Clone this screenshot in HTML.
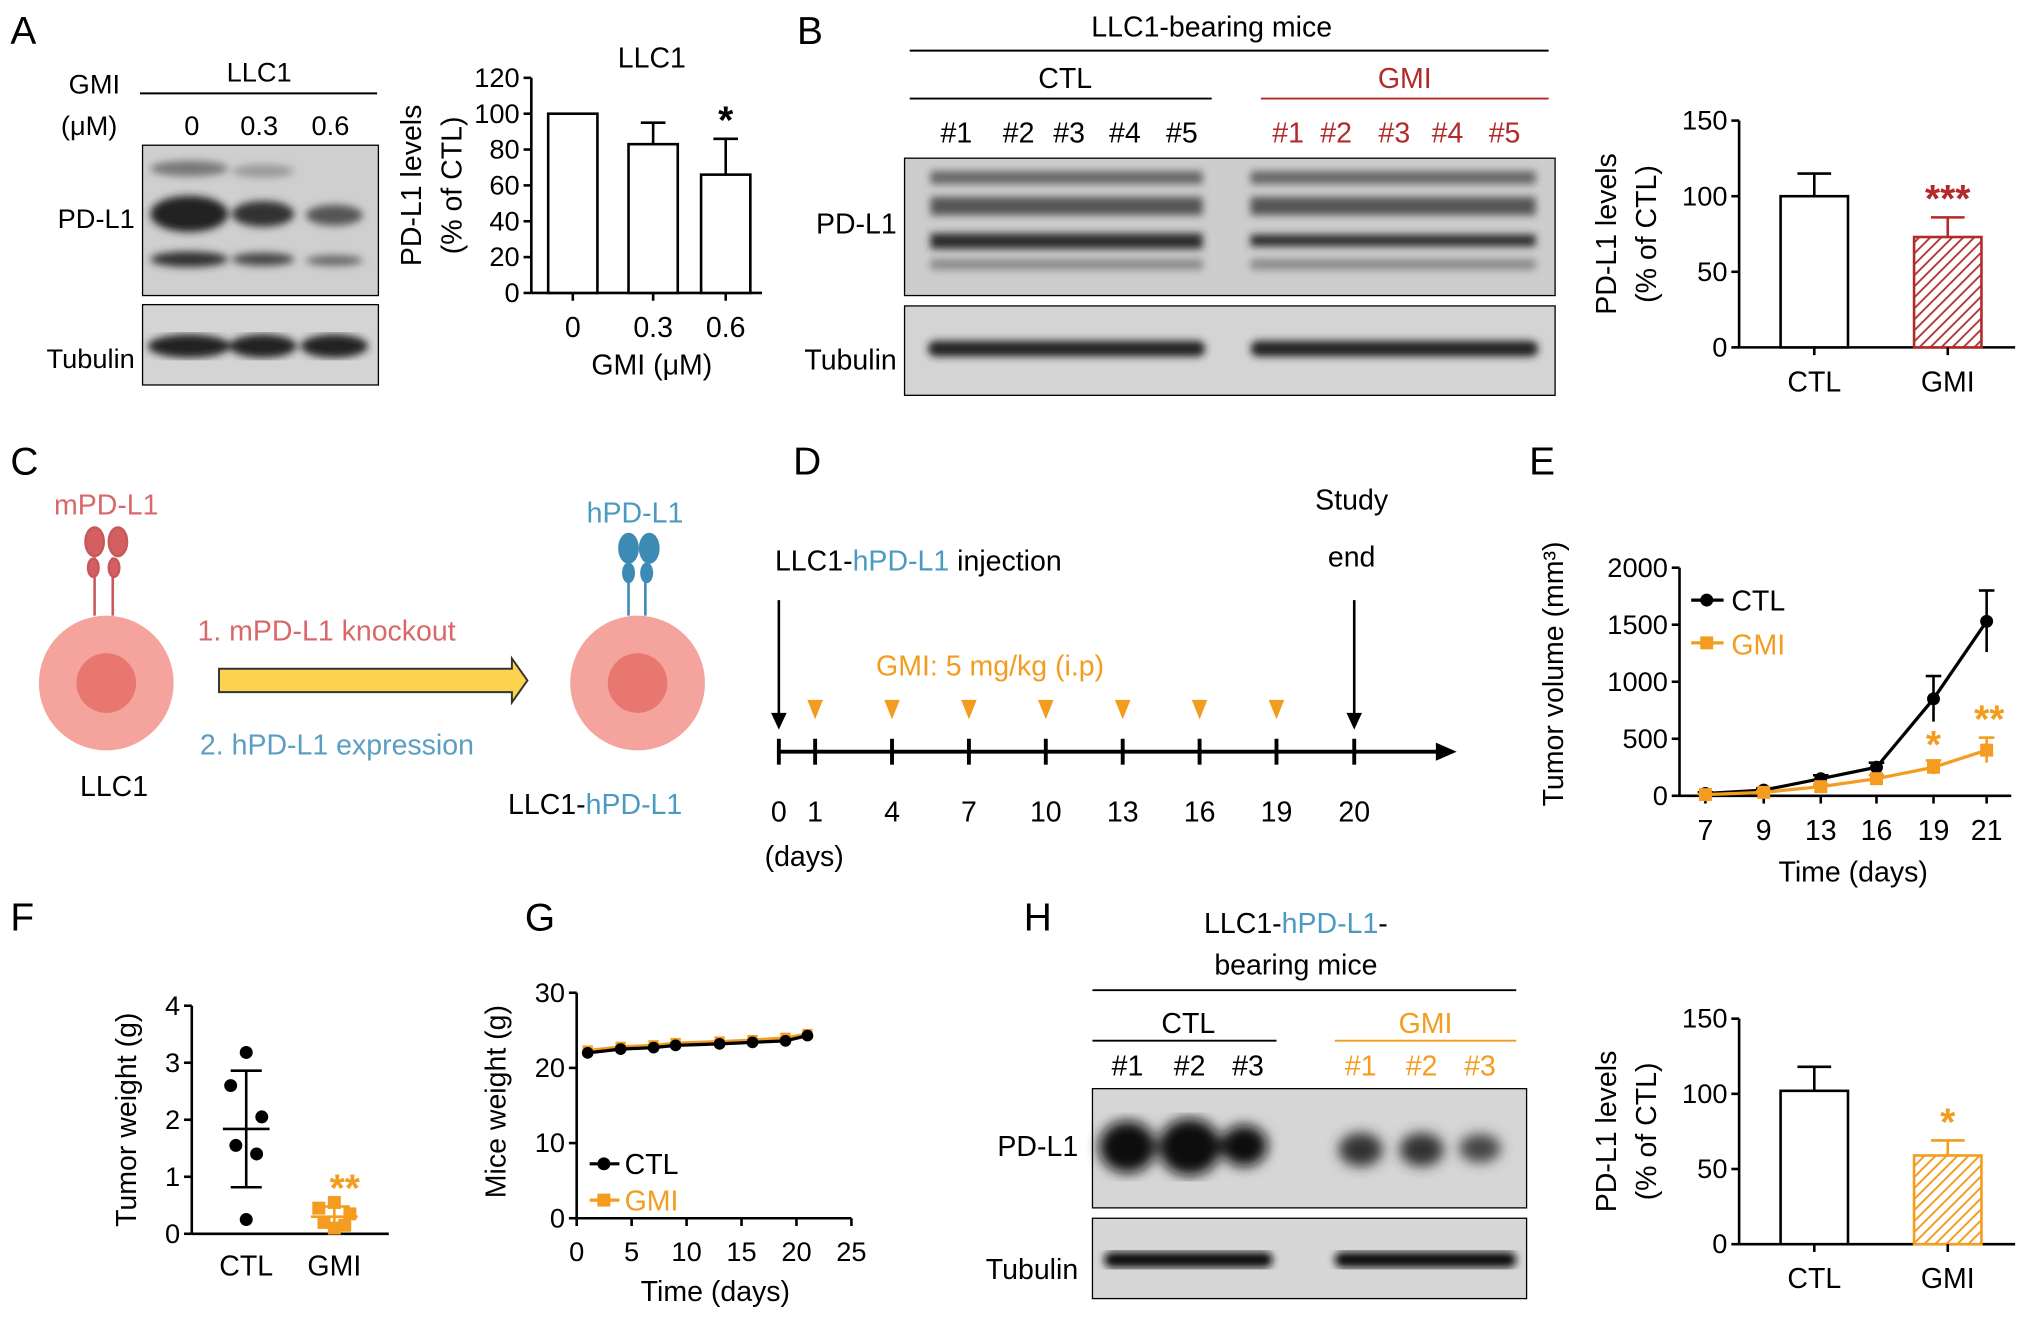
<!DOCTYPE html>
<html><head><meta charset="utf-8"><style>
html,body{margin:0;padding:0;background:#fff;}
svg{display:block;font-family:"Liberation Sans",Arial,sans-serif;}
</style></head><body>
<svg id="fig" width="2032" height="1322" viewBox="0 0 1568 1020" xmlns="http://www.w3.org/2000/svg">
<defs>
<pattern id="hatchRed" patternUnits="userSpaceOnUse" width="6" height="6" patternTransform="rotate(45)"><rect width="6" height="6" fill="#fff"/><line x1="0" y1="0" x2="0" y2="6" stroke="#b33a3a" stroke-width="3"/></pattern>
<pattern id="hatchOr" patternUnits="userSpaceOnUse" width="6" height="6" patternTransform="rotate(45)"><rect width="6" height="6" fill="#fff"/><line x1="0" y1="0" x2="0" y2="6" stroke="#f39c1f" stroke-width="3"/></pattern>
<filter id="blur2"><feGaussianBlur stdDeviation="3"/></filter>
<filter id="blur4"><feGaussianBlur stdDeviation="5"/></filter>
</defs>

<g font-size="30" fill="#000">
<text x="8" y="34">A</text><text x="615" y="34">B</text><text x="8" y="366">C</text>
<text x="612" y="366">D</text><text x="1180" y="366">E</text><text x="8" y="718">F</text>
<text x="405" y="718">G</text><text x="790" y="718">H</text>
</g>

<g font-size="21">
<text x="53" y="72">GMI</text>
<text x="47" y="104">(μM)</text>
<text x="200" y="63" text-anchor="middle">LLC1</text>
<line x1="108" y1="72" x2="291" y2="72" stroke="#000" stroke-width="1.5"/>
<text x="148" y="104" text-anchor="middle">0</text><text x="200" y="104" text-anchor="middle">0.3</text><text x="255" y="104" text-anchor="middle">0.6</text>
<text x="104" y="176" text-anchor="end">PD-L1</text>
<text x="104" y="284" text-anchor="end">Tubulin</text>
<rect x="110" y="112" width="182" height="116" fill="#cfcfcf" stroke="#000"/>
<g filter="url(#blur2)" fill="#222">
<ellipse cx="146" cy="165" rx="30" ry="14"/><ellipse cx="203" cy="165" rx="24" ry="10" fill="#333"/><ellipse cx="258" cy="166" rx="22" ry="8" fill="#555"/>
<ellipse cx="146" cy="200" rx="30" ry="6" fill="#333"/><ellipse cx="203" cy="200" rx="24" ry="5" fill="#444"/><ellipse cx="258" cy="201" rx="22" ry="4" fill="#666"/>
<ellipse cx="146" cy="130" rx="30" ry="6" fill="#777"/><ellipse cx="203" cy="132" rx="24" ry="5" fill="#999"/>
</g>
<rect x="110" y="235" width="182" height="62" fill="#d4d4d4" stroke="#000"/>
<g filter="url(#blur2)" fill="#222"><ellipse cx="146" cy="267" rx="32" ry="9"/><ellipse cx="203" cy="267" rx="26" ry="9"/><ellipse cx="258" cy="267" rx="26" ry="9"/></g>
</g>

<g font-size="22">
<text x="935" y="28" text-anchor="middle">LLC1-bearing mice</text>
<line x1="702" y1="39" x2="1195" y2="39" stroke="#000" stroke-width="1.5"/>
<text x="822" y="68" text-anchor="middle">CTL</text>
<line x1="702" y1="76" x2="935" y2="76" stroke="#000" stroke-width="1.5"/>
<text x="1084" y="68" text-anchor="middle" fill="#b22a2a">GMI</text>
<line x1="973" y1="76" x2="1195" y2="76" stroke="#b22a2a" stroke-width="1.5"/>
<g text-anchor="middle"><text x="738" y="110">#1</text><text x="786" y="110">#2</text><text x="825" y="110">#3</text><text x="868" y="110">#4</text><text x="912" y="110">#5</text></g>
<g text-anchor="middle" fill="#b22a2a"><text x="994" y="110">#1</text><text x="1031" y="110">#2</text><text x="1076" y="110">#3</text><text x="1117" y="110">#4</text><text x="1161" y="110">#5</text></g>
<text x="692" y="180" text-anchor="end">PD-L1</text>
<text x="692" y="285" text-anchor="end">Tubulin</text>
<rect x="698" y="122" width="502" height="106" fill="#cdcdcd" stroke="#000"/>
<rect x="698" y="236" width="502" height="69" fill="#d4d4d4" stroke="#000"/>
<g filter="url(#blur2)">
<g fill="#666"><rect x="718" y="132" width="210" height="10"/><rect x="965" y="132" width="220" height="10"/></g>
<g fill="#555"><rect x="718" y="152" width="210" height="14"/><rect x="965" y="152" width="220" height="14"/></g>
<g fill="#2a2a2a"><rect x="718" y="180" width="210" height="12"/><rect x="965" y="181" width="220" height="9"/></g>
<g fill="#888"><rect x="718" y="200" width="210" height="8"/><rect x="965" y="200" width="220" height="8"/></g>
<g fill="#222"><rect x="716" y="263" width="214" height="12" rx="6"/><rect x="965" y="263" width="222" height="12" rx="6"/></g>
</g>
</g>

<g font-size="22">
<text x="82" y="397" text-anchor="middle" fill="#d9686a">mPD-L1</text>
<g stroke="#c9585b" stroke-width="2" fill="#d45f62">
<line x1="73" y1="430" x2="73" y2="475"/><line x1="87" y1="430" x2="87" y2="475"/>
<ellipse cx="73" cy="418" rx="7" ry="11"/><ellipse cx="91" cy="418" rx="7" ry="11"/><ellipse cx="72" cy="438" rx="4" ry="7"/><ellipse cx="88" cy="438" rx="4" ry="7"/>
</g>
<circle cx="82" cy="527" r="52" fill="#f4a49d"/><circle cx="82" cy="527" r="23" fill="#e8776f"/>
<text x="88" y="614" text-anchor="middle" fill="#000">LLC1</text>
<text x="252" y="494" text-anchor="middle" fill="#d9686a">1. mPD-L1 knockout</text>
<text x="260" y="582" text-anchor="middle" fill="#5a9ec2">2. hPD-L1 expression</text>
<polygon points="169,516 395,516 395,508 407,525 395,542 395,534 169,534" fill="#fcd34f" stroke="#333" stroke-width="1.5"/>
<text x="490" y="403" text-anchor="middle" fill="#4a9ac2">hPD-L1</text>
<g stroke="#3d8bb5" stroke-width="2" fill="#3d8bb5">
<line x1="485" y1="435" x2="485" y2="475"/><line x1="498" y1="435" x2="498" y2="475"/>
<ellipse cx="485" cy="423" rx="7" ry="11"/><ellipse cx="501" cy="423" rx="7" ry="11"/><ellipse cx="485" cy="442" rx="4" ry="7"/><ellipse cx="499" cy="442" rx="4" ry="7"/>
</g>
<circle cx="492" cy="527" r="52" fill="#f4a49d"/><circle cx="492" cy="527" r="23" fill="#e8776f"/>
<text x="392" y="628" fill="#000">LLC1-<tspan fill="#4a9ac2">hPD-L1</tspan></text>
</g>

<g font-size="22">
<text x="598" y="440">LLC1-<tspan fill="#4a9ac2">hPD-L1</tspan> injection</text>
<text x="1043" y="393" text-anchor="middle">Study</text><text x="1043" y="437" text-anchor="middle">end</text>
<text x="764" y="521" text-anchor="middle" fill="#f39c1f">GMI: 5 mg/kg (i.p)</text>
<line x1="601" y1="463" x2="601" y2="553" stroke="#000" stroke-width="2"/><polygon points="595,550 607,550 601,563" fill="#000"/>
<line x1="1045" y1="463" x2="1045" y2="553" stroke="#000" stroke-width="2"/><polygon points="1039,550 1051,550 1045,563" fill="#000"/>
<line x1="601" y1="580" x2="1110" y2="580" stroke="#000" stroke-width="3"/><polygon points="1108,573 1124,580 1108,587" fill="#000"/>
<g id="dTicks"></g>
<text x="590" y="668">(days)</text>
</g>

<g id="charts"></g>

<g font-size="22">
<text x="1000" y="720" text-anchor="middle">LLC1-<tspan fill="#4a9ac2">hPD-L1</tspan>-</text>
<text x="1000" y="752" text-anchor="middle">bearing mice</text>
<line x1="843" y1="764" x2="1170" y2="764" stroke="#000" stroke-width="1.5"/>
<text x="917" y="797" text-anchor="middle">CTL</text>
<line x1="843" y1="803" x2="985" y2="803" stroke="#000" stroke-width="1.5"/>
<text x="1100" y="797" text-anchor="middle" fill="#f39c1f">GMI</text>
<line x1="1030" y1="803" x2="1170" y2="803" stroke="#f39c1f" stroke-width="1.5"/>
<g text-anchor="middle"><text x="870" y="830">#1</text><text x="918" y="830">#2</text><text x="963" y="830">#3</text></g>
<g text-anchor="middle" fill="#f39c1f"><text x="1050" y="830">#1</text><text x="1097" y="830">#2</text><text x="1142" y="830">#3</text></g>
<text x="832" y="892" text-anchor="end">PD-L1</text>
<text x="832" y="987" text-anchor="end">Tubulin</text>
<rect x="843" y="840" width="335" height="92" fill="#d6d6d6" stroke="#000"/>
<g filter="url(#blur4)" fill="#111"><ellipse cx="870" cy="885" rx="22" ry="20"/><ellipse cx="918" cy="885" rx="24" ry="22"/><ellipse cx="960" cy="884" rx="18" ry="16"/>
<ellipse cx="1050" cy="887" rx="17" ry="13" fill="#333"/><ellipse cx="1097" cy="887" rx="17" ry="13" fill="#333"/><ellipse cx="1142" cy="886" rx="16" ry="11" fill="#444"/></g>
<rect x="843" y="940" width="335" height="62" fill="#d6d6d6" stroke="#000"/>
<g filter="url(#blur2)" fill="#111"><rect x="852" y="966" width="130" height="12" rx="6"/><rect x="1030" y="966" width="140" height="12" rx="6"/></g>
</g>

<script>
var aCats = ["0","0.3","0.6"];
var aVals = [100, 83, 66];
var aErr = [0, 12, 20];
var aTicks = [0,20,40,60,80,100,120];
var bCats = ["CTL","GMI"];
var bVals = [100, 73];
var bErr = [15, 13];
var bTicks = [0,50,100,150];
var hCats = ["CTL","GMI"];
var hVals = [102, 59];
var hErr = [16, 10];
var dDays = [0,1,4,7,10,13,16,19,20];
var dGmi = [1,4,7,10,13,16,19];
var eDays = ["7","9","13","16","19","21"];
var eCtl = [20, 50, 150, 250, 850, 1530];
var eCtlErr = [10, 15, 30, 40, 200, 270];
var eGmi = [10, 30, 80, 150, 250, 400];
var eGmiErr = [5, 10, 20, 30, 60, 110];
var eTicks = [0,500,1000,1500,2000];
var fCtl = [3.18, 2.6, 2.05, 1.55, 1.4, 0.25];
var fGmi = [0.55, 0.45, 0.35, 0.2, 0.15, 0.1];
var fTicks = [0,1,2,3,4];
var gDays = [1,4,7,9,13,16,19,21];
var gCtl = [22, 22.5, 22.7, 23, 23.2, 23.4, 23.6, 24.3];
var gGmi = [22.3, 22.8, 23, 23.3, 23.5, 23.7, 24, 24.5];
var gXTicks = [0,5,10,15,20,25];
var gYTicks = [0,10,20,30];

var NS="http://www.w3.org/2000/svg";
var root=document.getElementById('charts');
function el(tag,attrs,parent,txt){var e=document.createElementNS(NS,tag);for(var k in attrs)e.setAttribute(k,attrs[k]);if(txt!==undefined)e.textContent=txt;(parent||root).appendChild(e);return e;}

function barChart(o){
  var g=el('g',{});
  
  
  var ymax=o.ticks[o.ticks.length-1];
  var Y=function(v){return o.y0-(v/ymax)*(o.y0-o.yTop);};
  el('line',{x1:o.x0,y1:o.y0,x2:o.x0,y2:o.yTop,stroke:'#000','stroke-width':2},g);
  el('line',{x1:o.x0,y1:o.y0,x2:o.x1,y2:o.y0,stroke:'#000','stroke-width':2},g);
  o.ticks.forEach(function(t){
    el('line',{x1:o.x0-6,y1:Y(t),x2:o.x0,y2:Y(t),stroke:'#000','stroke-width':2},g);
    var tx=el('text',{x:o.x0-9,y:Y(t)+7,'text-anchor':'end','font-size':21},g,t);
    
    
  });
  o.cats.forEach(function(c,i){
    var cx=o.cx[i];
    var r=el('rect',{x:cx-o.bw/2,y:Y(o.vals[i]),width:o.bw,height:o.y0-Y(o.vals[i]),fill:o.fills[i],stroke:o.strokes[i],'stroke-width':2},g);
    
    
    if(o.err[i]>0){var yt=Y(o.vals[i]+o.err[i]);
      el('line',{x1:cx,y1:Y(o.vals[i]),x2:cx,y2:yt,stroke:o.strokes[i],'stroke-width':2},g);
      el('line',{x1:cx-o.bw/4,y1:yt,x2:cx+o.bw/4,y2:yt,stroke:o.strokes[i],'stroke-width':2},g);}
    el('line',{x1:cx,y1:o.y0,x2:cx,y2:o.y0+6,stroke:'#000','stroke-width':2},g);
    var xl=el('text',{x:cx,y:o.y0+34,'text-anchor':'middle','font-size':22},g,c);
    
    
    if(o.stars[i]){var s=el('text',{x:cx,y:Y(o.vals[i]+o.err[i])-4,'text-anchor':'middle','font-size':30,'font-weight':'bold',fill:o.starColor},g,o.stars[i]);
      
      }
  });
  var cy=(o.y0+o.yTop)/2;
  var l1=el('text',{x:0,y:0,'text-anchor':'middle','font-size':22,transform:'translate('+o.lx+','+cy+') rotate(-90)'},g,'PD-L1 levels');
  
  
  el('text',{x:0,y:0,'text-anchor':'middle','font-size':22,transform:'translate('+(o.lx+31)+','+cy+') rotate(-90)'},g,'(% of CTL)');
  return {g:g,Y:Y};
}
var A=barChart({name:'chart-a',cats:aCats,vals:aVals,err:aErr,ticks:aTicks,x0:410,x1:588,y0:226,yTop:60,cx:[442,504,560],bw:38,fills:['#fff','#fff','#fff'],strokes:['#000','#000','#000'],stars:['','','*'],starColor:'#000',lx:325});
el('text',{x:503,y:52,'text-anchor':'middle','font-size':22},A.g,'LLC1');
el('text',{x:503,y:289,'text-anchor':'middle','font-size':22},A.g,'GMI (μM)');
barChart({name:'chart-b',cats:bCats,vals:bVals,err:bErr,ticks:bTicks,x0:1342,x1:1555,y0:268,yTop:93,cx:[1400,1503],bw:52,fills:['#fff','url(#hatchRed)'],strokes:['#000','#b22a2a'],stars:['','***'],starColor:'#b22a2a',lx:1247});
barChart({name:'chart-h',cats:hCats,vals:hVals,err:hErr,ticks:bTicks,x0:1342,x1:1555,y0:960,yTop:786,cx:[1400,1503],bw:52,fills:['#fff','url(#hatchOr)'],strokes:['#000','#f39c1f'],stars:['','*'],starColor:'#f39c1f',lx:1247});

(function(){
  var g=document.getElementById('dTicks');
  var X=function(d){ if(d<=0) return 601; if(d>=20) return 1045; return 629+(d-1)*(985-629)/18; };
  dDays.forEach(function(d){
    el('line',{x1:X(d),y1:570,x2:X(d),y2:590,stroke:'#000','stroke-width':3},g);
    var t=el('text',{x:X(d),y:634,'text-anchor':'middle','font-size':22},g,d);
    
    
  });
  dGmi.forEach(function(d){
    var p=el('polygon',{points:(X(d)-6)+',540 '+(X(d)+6)+',540 '+X(d)+',555',fill:'#f39c1f'},g);
    
    
  });
})();

(function(){
  var g=el('g',{});
  
  
  var x0=1296,y0=614,yTop=438,ymax=2000;
  var xs=[1316,1361,1405,1448,1492,1533];
  var Y=function(v){return y0-v/ymax*(y0-yTop);};
  el('line',{x1:x0,y1:y0,x2:x0,y2:yTop,stroke:'#000','stroke-width':2},g);
  el('line',{x1:x0,y1:y0,x2:1552,y2:y0,stroke:'#000','stroke-width':2},g);
  eTicks.forEach(function(t){el('line',{x1:x0-6,y1:Y(t),x2:x0,y2:Y(t),stroke:'#000','stroke-width':2},g);
    el('text',{x:x0-9,y:Y(t)+7,'text-anchor':'end','font-size':21},g,t);});
  eDays.forEach(function(d,i){el('line',{x1:xs[i],y1:y0,x2:xs[i],y2:y0+6,stroke:'#000','stroke-width':2},g);
    el('text',{x:xs[i],y:y0+34,'text-anchor':'middle','font-size':22},g,d);});
  function series(vals,err,color,sq,name){
    var pts=vals.map(function(v,i){return xs[i]+','+Y(v);}).join(' ');
    var l=el('polyline',{points:pts,fill:'none',stroke:color,'stroke-width':2.5},g);
    
    
    vals.forEach(function(v,i){
      el('line',{x1:xs[i],y1:Y(v-err[i]),x2:xs[i],y2:Y(v+err[i]),stroke:color,'stroke-width':2},g);
      el('line',{x1:xs[i]-6,y1:Y(v+err[i]),x2:xs[i]+6,y2:Y(v+err[i]),stroke:color,'stroke-width':2},g);
      if(sq) el('rect',{x:xs[i]-5,y:Y(v)-5,width:10,height:10,fill:color},g);
      else el('circle',{cx:xs[i],cy:Y(v),r:5,fill:color},g);
    });
  }
  series(eCtl,eCtlErr,'#000',false,'line-ctl');
  series(eGmi,eGmiErr,'#f39c1f',true,'line-gmi');
  el('text',{x:1492,y:Y(eGmi[4]+eGmiErr[4])-2,'text-anchor':'middle','font-size':30,'font-weight':'bold',fill:'#f39c1f'},g,'*');
  el('text',{x:1535,y:Y(eGmi[5]+eGmiErr[5])-4,'text-anchor':'middle','font-size':30,'font-weight':'bold',fill:'#f39c1f'},g,'**');
  el('line',{x1:1305,y1:463,x2:1330,y2:463,stroke:'#000','stroke-width':2.5},g);el('circle',{cx:1317,cy:463,r:5},g);
  el('text',{x:1336,y:471,'font-size':22},g,'CTL');
  el('line',{x1:1305,y1:496,x2:1330,y2:496,stroke:'#f39c1f','stroke-width':2.5},g);el('rect',{x:1312,y:491,width:10,height:10,fill:'#f39c1f'},g);
  el('text',{x:1336,y:505,'font-size':22,fill:'#f39c1f'},g,'GMI');
  el('text',{x:1430,y:680,'text-anchor':'middle','font-size':22},g,'Time (days)');
  var t=el('text',{x:0,y:0,'text-anchor':'middle','font-size':22,transform:'translate(1206,520) rotate(-90)'},g,'Tumor volume (mm³)');
  
  
})();

(function(){
  var g=el('g',{});
  
  
  var x0=148,y0=952,yTop=776,ymax=4;
  var Y=function(v){return y0-v/ymax*(y0-yTop);};
  el('line',{x1:x0,y1:y0,x2:x0,y2:yTop,stroke:'#000','stroke-width':2},g);
  el('line',{x1:x0,y1:y0,x2:300,y2:y0,stroke:'#000','stroke-width':2},g);
  fTicks.forEach(function(t){el('line',{x1:x0-6,y1:Y(t),x2:x0,y2:Y(t),stroke:'#000','stroke-width':2},g);
    el('text',{x:x0-9,y:Y(t)+7,'text-anchor':'end','font-size':21},g,t);});
  var offs=[0,-12,12,-8,8,0];
  function grp(vals,cx,color,sq,lab){
    var m=vals.reduce(function(a,b){return a+b;},0)/vals.length;
    var sd=Math.sqrt(vals.reduce(function(a,b){return a+(b-m)*(b-m);},0)/(vals.length-1));
    vals.forEach(function(v,i){
      var p=sq?el('rect',{x:cx+offs[i]-5,y:Y(v)-5,width:10,height:10,fill:color},g):el('circle',{cx:cx+offs[i],cy:Y(v),r:5,fill:color},g);
      
      
    });
    el('line',{x1:cx-18,y1:Y(m),x2:cx+18,y2:Y(m),stroke:color,'stroke-width':2},g);
    el('line',{x1:cx,y1:Y(Math.max(0,m-sd)),x2:cx,y2:Y(m+sd),stroke:color,'stroke-width':2},g);
    el('line',{x1:cx-12,y1:Y(m+sd),x2:cx+12,y2:Y(m+sd),stroke:color,'stroke-width':2},g);
    el('line',{x1:cx-12,y1:Y(Math.max(0,m-sd)),x2:cx+12,y2:Y(Math.max(0,m-sd)),stroke:color,'stroke-width':2},g);
    el('text',{x:cx,y:y0+32,'text-anchor':'middle','font-size':22},g,lab);
    return m+sd;
  }
  grp(fCtl,190,'#000',false,'CTL');
  var top=grp(fGmi,258,'#f39c1f',true,'GMI');
  el('text',{x:266,y:Y(top)-4,'text-anchor':'middle','font-size':30,'font-weight':'bold',fill:'#f39c1f'},g,'**');
  el('text',{x:0,y:0,'text-anchor':'middle','font-size':22,transform:'translate(105,864) rotate(-90)'},g,'Tumor weight (g)');
})();

(function(){
  var g=el('g',{});
  
  
  var x0=445,x1=657,y0=940,yTop=766;
  var X=function(d){return x0+d/25*(x1-x0);};
  var Y=function(v){return y0-v/30*(y0-yTop);};
  el('line',{x1:x0,y1:y0,x2:x0,y2:yTop,stroke:'#000','stroke-width':2},g);
  el('line',{x1:x0,y1:y0,x2:x1,y2:y0,stroke:'#000','stroke-width':2},g);
  gYTicks.forEach(function(t){el('line',{x1:x0-6,y1:Y(t),x2:x0,y2:Y(t),stroke:'#000','stroke-width':2},g);
    el('text',{x:x0-9,y:Y(t)+7,'text-anchor':'end','font-size':21},g,t);});
  gXTicks.forEach(function(t){el('line',{x1:X(t),y1:y0,x2:X(t),y2:y0+6,stroke:'#000','stroke-width':2},g);
    el('text',{x:X(t),y:y0+33,'text-anchor':'middle','font-size':21},g,t);});
  function s(vals,color,sq,name){
    var l=el('polyline',{points:vals.map(function(v,i){return X(gDays[i])+','+Y(v);}).join(' '),fill:'none',stroke:color,'stroke-width':2.5},g);
    
    
    vals.forEach(function(v,i){ if(sq) el('rect',{x:X(gDays[i])-4,y:Y(v)-4,width:8,height:8,fill:color},g); else el('circle',{cx:X(gDays[i]),cy:Y(v),r:4.5,fill:color},g);});
  }
  s(gGmi,'#f39c1f',true,'line-gmi');
  s(gCtl,'#000',false,'line-ctl');
  el('line',{x1:455,y1:898,x2:478,y2:898,stroke:'#000','stroke-width':2.5},g);el('circle',{cx:466,cy:898,r:5},g);
  el('text',{x:482,y:906,'font-size':22},g,'CTL');
  el('line',{x1:455,y1:926,x2:478,y2:926,stroke:'#f39c1f','stroke-width':2.5},g);el('rect',{x:461,y:921,width:10,height:10,fill:'#f39c1f'},g);
  el('text',{x:482,y:934,'font-size':22,fill:'#f39c1f'},g,'GMI');
  el('text',{x:552,y:1004,'text-anchor':'middle','font-size':22},g,'Time (days)');
  el('text',{x:0,y:0,'text-anchor':'middle','font-size':22,transform:'translate(390,850) rotate(-90)'},g,'Mice weight (g)');
})();
</script>
</svg>
</body></html>
